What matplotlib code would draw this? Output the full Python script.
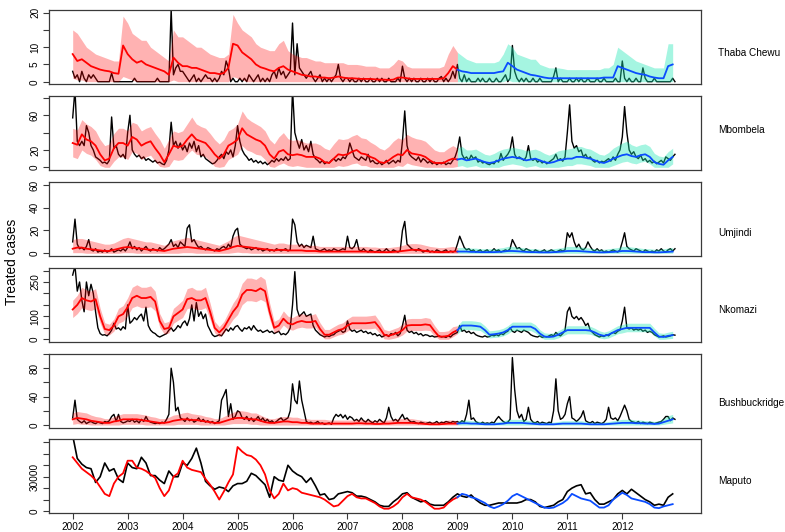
import numpy as np
import matplotlib
matplotlib.use("Agg")
import matplotlib.pyplot as plt

plt.rcParams['font.family'] = ['Liberation Sans', 'DejaVu Sans']

def flat(rows):
    return np.array([v for r in rows for v in r], dtype=float)

regions = ["Thaba Chewu", "Mbombela", "Umjindi", "Nkomazi", "Bushbuckridge", "Maputo"]
year_ticks = list(range(2002, 2013))

# ---------------- Thaba Chewu ----------------
thaba_obs = flat([
 [3,1,2,0,3,1,0,2,1,2,1,0, 0,0,0,0,0,2.5,0,0,0,0,0,0],
 [0,0,0,1,0,0,0,0,0,0,0,0, 0,1,0,0,0,0,0,21,2,4,5,3],
 [3,2,1,0,1,2,0,1,0,1,2,1, 1,0,1,0,1,3,2,6,4,0,1,0],
 [0,1,0,1,0,2,1,0,1,2,0,1, 0,1,0,2,3,1,4,2,3,1,2,3],
 [17,2,11,4,3,2,1,2,3,1,0,1, 2,0,1,0,1,0,1,2,5,1,0,1],
 [1,0,1,0,0,1,0,1,0,0,1,0, 0,1,0,1,0,0,1,0,0,0,1,0],
 [4.5,1,0,1,0,1,0,0,1,0,0,1, 0,1,0,0,1,1.5,0,1,0,1,3,1],
 [5,1,0,2,0,1,0,0,0,1,0,1, 0,0,1,0,0,1,0,0,1,2,0,1],
 [10.5,3,1,0,1,0,1,0,0,1,0,0, 1,0,0,0,0,0,1.5,4,0,1,0,0],
 [0,1,0,0,1,0,1,0,0,1,0,0, 0,1,0,0,1,0,0,0,0,1,0,0],
 [6,1,0,1,0,0,1,0,0,4,1,0, 0,0,1,0,0,0,0,0,0,0,1,0]])
thaba_fit = flat([
 [8,6,6.5,5.5,4.5,4,3.5,3.2,3,2.5,2.3,10.5],
 [8,6.5,5.5,6,5,4.5,4,3.5,3,2,7,5.5],
 [4.5,4.5,4,4,3.5,3,2.5,2.5,2.2,2.5,4,11],
 [10.5,8.5,7.5,6.5,5,4.2,3.8,3.3,3,4,4.5,3.5],
 [3,2.5,2,1.8,1.5,1.5,1.2,1.2,1,1.2,1.5,1.2],
 [1,1,0.9,0.8,0.8,0.8,0.7,0.6,0.6,0.5,0.6,1.2],
 [1.2,1,0.8,0.8,0.8,0.8,0.8,0.8,0.8,1,2.5,4.5],
 [3.5,3,2.8,2.5,2.5,2.5,2.5,2.5,2.5,2.8,3,5.5],
 [4.5,3.5,3,2.5,2,1.8,1.5,1.2,1,1,1,1],
 [1,1,1,1,1,1,1,1,1.2,1.2,1.2,4.5],
 [4,3.5,3,2.5,2.2,2,1.5,1.2,1,1,4.5,5]])
thaba_hi = flat([
 [15,14,12,10,9,8,7.5,7,6.5,6,6,19],
 [17,14,13,12,12,10,9,8,7,6,15,13],
 [13,12,11,10,10,9,8,7.5,7,7,8,19.5],
 [17,15,14,13,11,10,9.5,9,9,11,12,9],
 [8,7.5,7,7,6.5,6,6,5.5,5.5,5.5,5.5,5.5],
 [5,5,5,4.8,4.5,4.5,4.5,4,4,4,5,6.5],
 [6,4.5,4,4,4,4,4,4,4,4.5,8,10.5],
 [8.5,7.5,6.5,6,5.5,5.5,5.5,5.5,5.5,6,8,11],
 [10,8,7.5,7,6.5,6.5,5,4.5,4,4,4,3.8],
 [3.5,3.5,3.5,3.5,3.5,3.5,3.5,3.5,4,4,5,10],
 [9,8,7,6,5.5,5,4.5,4,4,4,11,11]])
thaba_lo = flat([
 [1,0.5,0.5,0,0,0,0,0,0,0,0,1.5],
 [1,0.5,0,0,0,0,0,0,0,0,0.5,0],
 [0,0,0,0,0,0,0,0,0,0,0,1.5],
 [1,0.5,0,0,0,0,0,0,0,0,0,0],
 [0,0,0,0,0,0,0,0,0,0,0,0],
 [0,0,0,0,0,0,0,0,0,0,0,0],
 [0,0,0,0,0,0,0,0,0,0,0,0],
 [0,0,0,0,0,0,0,0,0,0,0,0.5],
 [0,0,0,0,0,0,0,0,0,0,0,0],
 [0,0,0,0,0,0,0,0,0,0,0,0],
 [0,0,0,0,0,0,0,0,0,0,0,0]])

# ---------------- Mbombela ----------------
mbo_obs = flat([
 [57,90,30,25,30,25,48,40,25,20,12,10, 8,5,6,4,8,58,22,25,15,12,15,10],
 [40,60,20,15,12,14,10,12,8,10,8,6, 8,5,6,4,3,8,20,52,25,30,22,28],
 [20,25,18,28,22,30,18,25,12,15,10,8, 6,4,5,8,12,15,10,18,15,20,12,25],
 [48,30,20,15,12,8,10,6,8,5,7,4, 6,3,5,8,6,10,7,10,8,12,8,10],
 [90,40,30,22,32,20,25,18,30,15,10,8, 5,8,4,6,5,8,10,7,10,8,12,10],
 [15,28,20,12,10,8,12,10,8,15,6,8, 5,4,6,3,5,8,4,6,8,5,8,6],
 [30,65,25,15,12,10,8,12,6,10,8,5, 7,4,6,3,5,4,6,3,5,4,8,12],
 [20,35,15,10,12,8,14,10,12,6,8,5, 6,4,3,5,4,8,6,16,8,12,15,20],
 [35,15,10,12,10,8,12,25,10,8,10,6, 8,5,7,4,6,8,10,15,8,10,7,12],
 [40,72,30,22,25,18,20,12,15,10,12,8, 6,8,5,7,6,8,10,7,12,8,15,20],
 [35,70,40,20,15,18,12,10,14,8,10,6, 8,5,7,4,6,8,5,12,10,8,12,15]])
mbo_fit = flat([
 [28,26,38,32,30,25,15,8,10,22,28,28],
 [25,35,32,25,28,30,22,15,6,15,25,23],
 [25,32,38,32,30,28,22,15,10,15,25,28],
 [32,45,38,35,32,30,25,15,10,18,20,15],
 [14,15,14,12,12,12,10,6,5,10,15,14],
 [15,18,20,16,15,12,10,6,5,8,12,15],
 [14,20,16,15,14,12,8,5,5,5,8,10],
 [9,10,8,9,10,8,6,5,6,8,10,11],
 [12,11,10,8,9,10,8,6,5,6,8,9],
 [10,10,12,12,11,10,8,6,5,7,10,12],
 [14,15,13,12,14,15,12,6,4,3,8,12]])
mbo_hi = flat([
 [45,43,55,50,47,42,32,25,27,39,45,45],
 [42,52,50,42,45,47,39,32,22,32,42,40],
 [42,50,58,50,47,45,39,32,27,32,42,45],
 [50,65,57,53,50,47,42,32,27,35,40,33],
 [31,32,30,28,28,28,26,22,20,27,33,32],
 [33,36,38,34,33,29,26,22,20,24,30,34],
 [32,38,35,33,32,30,25,20,18,18,22,25],
 [22,24,20,20,21,18,15,14,16,19,21,22],
 [23,22,21,19,20,21,19,16,14,16,19,20],
 [21,22,24,24,22,21,18,15,14,17,22,25],
 [28,30,26,24,26,27,24,16,13,12,18,22]])
mbo_lo = flat([
 [12,10,20,16,14,9,2,0,0,7,12,12],
 [9,18,16,9,12,14,7,1,0,1,9,8],
 [9,15,20,15,14,12,7,1,0,1,9,12],
 [15,25,20,18,15,14,9,1,0,3,5,2],
 [1,2,1,0,0,0,0,0,0,0,2,1],
 [2,4,5,2,2,0,0,0,0,0,0,2],
 [1,5,3,2,1,0,0,0,0,0,0,0],
 [1,2,0,1,2,0,0,0,0,0,2,3],
 [4,3,2,0,1,2,0,0,0,0,0,1],
 [2,2,4,4,3,2,0,0,0,0,2,4],
 [6,7,5,4,6,7,4,0,0,0,0,4]])

# ---------------- Umjindi ----------------
umj_obs = flat([
 [10,30,8,4,5,3,6,12,3,2,4,1, 2,1,3,1,2,4,1,2,3,2,4,2],
 [5,10,4,6,3,5,2,4,6,3,2,4, 3,2,5,3,4,6,8,12,6,8,5,10],
 [8,6,22,25,10,12,8,5,6,4,3,5, 4,3,2,4,3,5,6,4,8,5,15,20],
 [22,8,6,5,4,5,3,4,5,3,4,2, 3,4,2,3,2,4,3,2,3,4,2,3],
 [30,25,10,6,8,5,7,6,5,15,4,3, 2,3,4,2,3,2,4,3,2,3,4,3],
 [15,5,4,6,12,3,2,4,2,1,3,2, 1,2,3,1,2,4,2,1,3,2,1,2],
 [20,28,8,6,4,3,2,4,3,1,2,3, 1,2,1,3,2,1,2,3,1,2,1,2],
 [8,15,10,5,3,4,2,3,1,2,3,1, 2,3,1,2,4,2,3,1,2,3,2,4],
 [12,8,4,5,3,2,4,3,2,1,3,2, 1,2,3,1,2,3,2,1,2,3,2,3],
 [18,14,18,10,5,8,4,3,5,10,6,3, 2,4,2,3,1,2,1,2,3,2,1,3],
 [10,18,6,4,3,2,4,3,2,1,3,2, 1,2,1,3,2,4,2,1,3,4,2,4]])
umj_fit = flat([
 [4,5,5,4,3.5,3,2.5,2,2,3,4,5],
 [5.5,5,4.5,4,3.5,3,3,2.5,2,3,4,4.5],
 [5,5.5,5,4.5,4,3.5,3,2.5,2,3,4,5.5],
 [6.5,6,5.5,5,4.5,4,3.5,3,2.5,3,3,2.5],
 [2.5,2.5,2.5,2,2,2,1.5,1.5,1.5,1.5,1.5,1.5],
 [1.5,1.5,1.5,1.5,1.5,1.2,1.2,1,1,1,1.2,1.5],
 [2,2.5,3,3,2.5,2,1.5,1.2,1,1,1.2,1.5],
 [1.5,1.5,1.5,1.2,1.2,1,1,1,1,1.2,1.5,2],
 [2,1.8,1.5,1.2,1,1,0.8,0.8,0.8,1,1.2,1.5],
 [2,2,2,1.8,1.5,1.2,1,0.8,0.8,1,1.2,1.5],
 [2,2,1.8,1.5,1.2,1,1,0.8,0.8,1,1.2,1.5]])
umj_hi = flat([
 [12,13,13,12,11,10,9,8,8,9,11,13],
 [14,13,12,11,10,10,9,8,7,9,11,12],
 [13,14,13,12,11,10,9,8,7,9,11,14],
 [16,15,14,13,12,11,10,9,8,9,9,8],
 [8,8,8,7,7,7,6,6,6,6,6,6],
 [6,6,6,6,6,5.5,5.5,5,5,5,5.5,6],
 [7,8,8.5,8.5,8,7,6,5.5,5,5,5.5,6],
 [5,5,5,4.5,4.5,4,4,4,4,4.5,5,6],
 [6,5.5,5,4.5,4,4,3.5,3.5,3.5,4,4.5,5],
 [6,6,6,5.5,5,4.5,4,3.5,3.5,4,4.5,5],
 [6,6,5.5,5,4.5,4,4,3.5,3.5,4,4.5,5]])
umj_lo = flat([
 [0.5,0.5,0.5,0,0,0,0,0,0,0,0,0.5],
 [0.5,0.5,0,0,0,0,0,0,0,0,0,0],
 [0.5,0.5,0.5,0,0,0,0,0,0,0,0,0.5],
 [1,0.5,0.5,0,0,0,0,0,0,0,0,0],
 [0,0,0,0,0,0,0,0,0,0,0,0],
 [0,0,0,0,0,0,0,0,0,0,0,0],
 [0,0,0,0,0,0,0,0,0,0,0,0],
 [0,0,0,0,0,0,0,0,0,0,0,0],
 [0,0,0,0,0,0,0,0,0,0,0,0],
 [0,0,0,0,0,0,0,0,0,0,0,0],
 [0,0,0,0,0,0,0,0,0,0,0,0]])

# ---------------- Nkomazi ----------------
nko_obs = flat([
 [280,320,210,250,170,120,250,190,240,200,120,50, 25,18,20,15,25,40,70,45,50,40,55,45],
 [150,70,80,95,85,100,110,80,140,60,40,30, 25,15,10,15,20,25,40,50,35,45,60,50],
 [70,80,60,90,150,80,160,100,120,90,110,60, 40,20,12,15,20,15,30,45,35,50,40,55],
 [60,45,35,50,45,55,40,60,45,35,40,30, 35,40,30,35,25,30,35,20,25,20,30,50],
 [150,295,130,100,110,120,100,105,110,60,40,30, 20,15,10,15,12,18,20,30,35,40,30,35],
 [80,45,35,40,30,35,40,30,35,25,30,20, 25,15,20,10,15,20,12,25,20,30,15,25],
 [60,105,40,30,35,25,30,20,25,15,20,18, 12,15,10,12,15,10,12,8,15,10,20,25],
 [30,60,35,40,30,35,25,30,20,15,12,10, 15,10,12,18,15,20,15,25,20,30,35,50],
 [35,30,40,35,30,40,35,30,20,15,12,10, 15,8,12,10,15,20,15,30,20,15,25,40],
 [120,140,100,90,100,85,95,80,60,70,40,30, 20,15,10,15,12,20,15,25,30,25,35,40],
 [80,140,50,45,50,40,45,40,45,35,40,30, 35,30,20,15,10,12,15,10,12,15,20,18]])
nko_fit = flat([
 [130,150,180,170,165,175,100,45,40,60,100,110],
 [140,180,190,180,180,185,165,80,45,50,100,115],
 [130,175,180,170,170,180,120,50,30,50,85,120],
 [145,195,215,215,210,222,210,120,50,60,90,70],
 [65,75,80,75,75,80,45,20,20,30,40,45],
 [60,70,70,70,70,72,75,50,20,15,22,28],
 [40,60,62,62,62,65,62,35,12,12,15,30],
 [40,60,60,60,58,55,40,20,22,25,30,40],
 [55,55,55,55,55,45,25,12,10,12,20,30],
 [40,40,40,40,40,38,30,20,15,20,30,40],
 [45,50,50,50,50,50,50,30,12,10,15,18]])
nko_hi = flat([
 [170,192,227,215,210,221,135,72,66,89,135,147],
 [181,227,238,227,227,233,210,112,72,78,135,152],
 [170,221,227,215,215,227,158,78,55,78,118,158],
 [187,244,267,267,261,275,261,158,78,89,124,101],
 [95,106,112,106,106,112,72,43,43,55,66,72],
 [89,101,101,101,101,103,106,78,43,37,45,52],
 [66,89,91,91,91,95,91,60,34,34,37,55],
 [59,81,81,81,79,75,59,37,39,42,48,59],
 [75,75,75,75,75,64,42,28,26,28,37,48],
 [59,59,59,59,59,57,48,37,31,37,48,59],
 [64,70,70,70,70,70,70,48,28,26,31,35]])
nko_lo = flat([
 [95,112,138,130,125,134,70,23,19,36,70,79],
 [104,138,146,138,138,142,125,53,23,28,70,83],
 [95,134,138,130,130,138,87,28,11,28,57,87],
 [108,151,168,168,164,174,164,87,28,36,62,45],
 [40,49,53,49,49,53,23,2,2,11,19,23],
 [36,45,45,45,45,46,49,28,2,0,4,9],
 [19,36,38,38,38,40,38,15,0,0,0,11],
 [24,42,42,42,40,38,24,6,8,10,15,24],
 [38,38,38,38,38,28,10,0,0,0,6,15],
 [24,24,24,24,24,22,15,6,2,6,15,24],
 [28,33,33,33,33,33,33,15,0,0,2,4]])

# ---------------- Bushbuckridge ----------------
bus_obs = flat([
 [10,35,8,5,3,6,2,4,5,3,2,4, 3,2,5,4,6,12,15,5,15,5,3,4],
 [6,5,8,4,6,3,8,5,12,6,4,3, 2,3,2,4,3,8,15,80,60,20,25,10],
 [8,5,10,6,8,4,6,10,5,8,4,6, 3,5,2,4,6,35,42,50,12,30,8,12],
 [20,18,10,8,12,6,10,5,8,12,6,10, 5,8,4,6,3,5,8,10,6,8,10,20],
 [58,35,30,62,35,20,5,3,4,2,3,5, 2,3,1,2,3,1,10,15,12,15,10,14],
 [8,12,10,6,8,5,10,6,4,8,5,3, 6,4,8,5,3,10,25,12,6,8,5,10],
 [15,8,10,6,4,5,3,2,4,3,2,3, 4,2,3,5,2,4,3,5,4,3,5,4],
 [5,3,6,4,15,35,8,10,5,3,2,4, 2,3,2,4,3,8,12,8,5,3,4,8],
 [95,50,20,10,15,5,8,25,8,4,3,5, 2,4,3,2,4,3,20,65,20,8,10,15],
 [30,40,10,8,5,8,12,20,6,4,3,5, 2,4,3,2,4,8,25,10,8,10,6,12],
 [20,28,20,8,5,4,3,5,2,4,3,2, 4,3,2,3,4,5,8,12,12,6,10,8]])
bus_fit = flat([
 [8,10,9,8,6,5,4,3,3,5,6,8],
 [8,8,8,7,6,5,4,3,3,4,6,7],
 [8,8,7,7,6,5,4,3,3,5,7,9],
 [10,10,9,8,8,6,4,3,3,4,5,5],
 [4,4,3,3,2,2,2,2,2,2,2,2],
 [2,2,2.5,2.5,2,2,1.5,1.5,2,2,2.5,3],
 [3,3,3,2.5,2,1.5,1,1,1,1.5,2,2],
 [2,2.5,2.5,2,2,1.5,1,1,1,1.5,2,3],
 [3,3,3,2.5,2,1.5,1,1,1,1,1.5,2],
 [2,2,2,2,1.5,1,1,1,1,1.5,2,2.5],
 [3,3,3,2.5,2.5,2,2,1.5,2,4,6,8]])
bus_hi = flat([
 [17,19,18,17,14,12,11,9,9,12,14,16],
 [16,16,16,15,14,12,11,9,9,11,14,15],
 [17,18,16,15,14,12,11,9,9,12,15,18],
 [20,20,19,17,17,14,11,9,9,11,12,12],
 [11,11,9,9,8,8,8,8,7,7,7,7],
 [7,7,8,8,7,7,6,6,7,7,8,9],
 [9,9,9,8,7,6,5,5,5,6,7,7],
 [6,7,7,6,6,5,4,4,4,5,6,8],
 [8,8,8,7,6,5,4,4,4,4,5,6],
 [6,6,6,6,5,4,4,4,4,5,6,7],
 [8,8,8,7,7,6,6,5,6,9,13,15]])
bus_lo = flat([
 [1,2,1,1,0,0,0,0,0,0,0,1],
 [1,1,1,1,0,0,0,0,0,0,0,1],
 [1,1,1,1,0,0,0,0,0,0,1,2],
 [2,2,2,1,1,0,0,0,0,0,0,0],
 [0,0,0,0,0,0,0,0,0,0,0,0],
 [0,0,0,0,0,0,0,0,0,0,0,0],
 [0,0,0,0,0,0,0,0,0,0,0,0],
 [0,0,0,0,0,0,0,0,0,0,0,0],
 [0,0,0,0,0,0,0,0,0,0,0,0],
 [0,0,0,0,0,0,0,0,0,0,0,0],
 [0,0,0,0,0,0,0,0,0,1,2,3]])

# ---------------- Maputo (thousands, monthly) ----------------
map_obs_k = flat([
 [66,46,41,38,37,25,30,42,35,37,28,25],
 [42,38,37,47,42,31,31,27,24,35,30,30],
 [42,40,46,55,42,26,22,19,21,20,17,22],
 [24,24,26,33,31,27,23,12,30,27,26,40],
 [35,32,30,25,29,22,14,15,10,11,15,16],
 [17,16,13,13,12,10,8,5,4,4,8,11],
 [15,16,12,10,8,9,6,5,5,5,8,12],
 [15,13,12,14,10,7,5,5,6,7,7,7],
 [7,7,8,10,10,8,4,3,4,5,8,10],
 [17,20,22,23,15,16,10,6,6,8,10,15],
 [18,15,19,16,13,10,8,5,6,5,12,15]])
map_fit_k = flat([
 [47,42,37,34,31,27,21,15,13,24,30,33],
 [44,44,38,37,35,32,29,20,13,18,30,33],
 [44,38,36,35,34,28,23,17,10,17,25,32],
 [56,52,49,48,45,40,32,18,11,15,24,18],
 [20,19,16,15,14,13,12,10,7,4,5,9],
 [13,15,12,11,11,9,7,4,2,2,4,7],
 [12,15,12,11,10,8,5,2,2,3,7,10],
 [12,15,14,12,11,9,7,4,2.5,4,6,9],
 [13,15,13,11,9,7,5,3,2.5,3,5,7],
 [10,15,13,11,10,9,6,3,3,5,10,13],
 [16,14,11,10,9,8,6,3,2.5,4,5,6]])

t_obs = 2002 + np.arange(len(thaba_obs)) / 24.0
t_fit = 2002 + np.arange(len(thaba_fit)) / 12.0
split = 84  # January 2009: fitted (red) -> predicted (blue)

RED = '#ff0000'
BLUE = '#0a4cff'
BAND_RED = '#ff0000'
BAND_GREEN = '#1ee6b4'

panels = [
    (thaba_obs, thaba_fit, thaba_hi, thaba_lo, (-0.67, 20.78), [0, 5, 10, 15, 20], {0: '0', 5: '5', 10: '10', 20: '20'}),
    (mbo_obs, mbo_fit, mbo_hi, mbo_lo, (-3.1, 82.2), [0, 20, 40, 60, 80], {0: '0', 20: '20', 60: '60'}),
    (umj_obs, umj_fit, umj_hi, umj_lo, (-2.4, 62.6), [0, 20, 40, 60], {0: '0', 20: '20', 40: '40', 60: '60'}),
    (nko_obs, nko_fit, nko_hi, nko_lo, (-11.8, 311), [0, 50, 100, 150, 200, 250, 300], {0: '0', 100: '100', 250: '250'}),
    (bus_obs, bus_fit, bus_hi, bus_lo, (-4.2, 99.5), [0, 20, 40, 60, 80, 100], {0: '0', 40: '40', 80: '80'}),
]

fig = plt.figure(figsize=(7.85, 5.32), dpi=100)
W, H = 785.0, 532.0
tops = [10, 96, 182, 268, 354, 439]
bots = [84, 170, 256, 342, 428, 513]
label_y = [53, 130, 233, 310, 403, 481]
SPINE = '#3a3a3a'
FS = 7.2

axes = []
for i in range(6):
    ax = fig.add_axes([49 / W, 1 - bots[i] / H, 652 / W, (bots[i] - tops[i]) / H])
    ax.set_xlim(2001.569, 2013.432)
    for s in ax.spines.values():
        s.set_color(SPINE)
        s.set_linewidth(0.9)
    ax.tick_params(axis='both', direction='out', length=4.5, width=0.8, color=SPINE,
                   labelsize=FS, pad=2)
    axes.append(ax)

for ax, (obs, fit, hi, lo, ylim, yt, ylab) in zip(axes[:5], panels):
    ax.plot(t_obs, obs, color='black', lw=1.0, zorder=2)
    ax.fill_between(t_fit[:split + 1], lo[:split + 1], hi[:split + 1], color=BAND_RED,
                    alpha=0.30, lw=0, zorder=3)
    ax.fill_between(t_fit[split:], lo[split:], hi[split:], color=BAND_GREEN,
                    alpha=0.40, lw=0, zorder=3)
    ax.plot(t_fit[:split + 1], fit[:split + 1], color=RED, lw=1.3, zorder=4)
    ax.plot(t_fit[split:], fit[split:], color=BLUE, lw=1.3, zorder=4)
    ax.set_ylim(*ylim)
    ax.set_yticks(yt)
    ax.set_yticklabels([ylab.get(v, '') for v in yt], rotation=90, va='center')
    ax.set_xticks([])

# Maputo
ax = axes[5]
ax.plot(t_fit, map_obs_k * 1000, color='black', lw=1.2, zorder=2)
ax.plot(t_fit[:split + 1], map_fit_k[:split + 1] * 1000, color=RED, lw=1.3, zorder=3)
ax.plot(t_fit[split:], map_fit_k[split:] * 1000, color=BLUE, lw=1.3, zorder=3)
ax.set_ylim(-1750, 63000)
myt = [0, 10000, 20000, 30000, 40000, 50000, 60000]
ax.set_yticks(myt)
ax.set_yticklabels(['0', '', '', '30000', '', '', ''], rotation=90, va='center')
ax.set_xticks(year_ticks)
ax.set_xticklabels([str(y) for y in year_ticks])

for name, yy in zip(regions, label_y):
    fig.text(718 / W, 1 - yy / H, name, ha='left', va='center', fontsize=FS)

fig.text(12 / W, 1 - 262 / H, 'Treated cases', rotation=90, ha='center', va='center',
         fontsize=9.8)

fig.savefig('out.png', dpi=100)
